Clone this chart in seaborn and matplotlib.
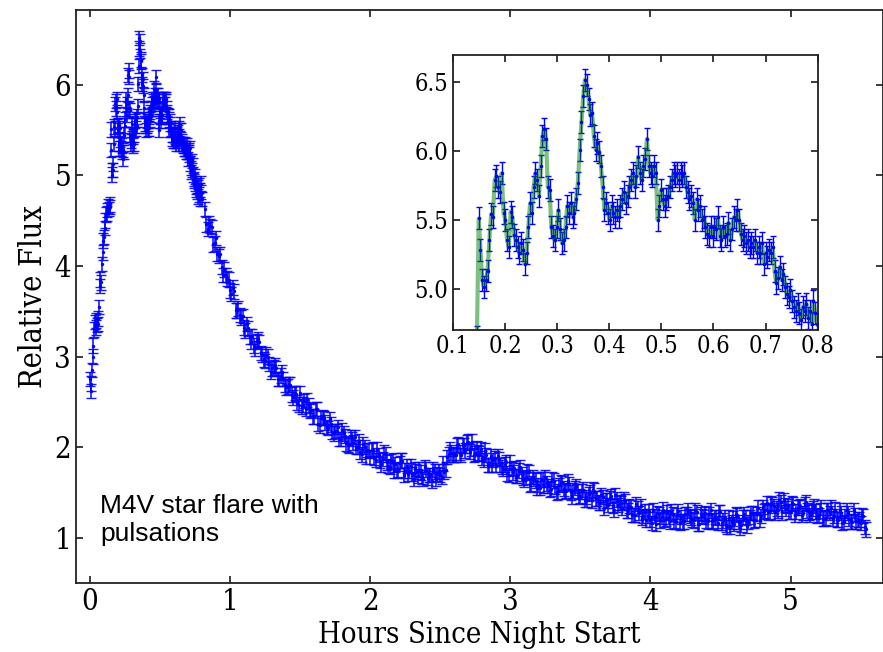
import numpy as np
import pandas as pd
import matplotlib
matplotlib.use('Agg')
import matplotlib.pyplot as plt
import seaborn as sns

# early rise of the flare, read every 0.005 h
rise_t0, rise_step = 0.0, 0.005
rise_flux = [2.75, 2.62, 2.70, 2.85, 3.00, 3.12, 3.30, 3.38, 3.32, 3.40,
             3.35, 3.42, 3.36, 3.55, 3.78, 3.85, 3.82, 4.02, 4.15, 4.28,
             4.32, 4.42, 4.50, 4.57, 4.62, 4.58, 4.66, 4.63, 4.68]

# flare peak with pulsations (the stretch in the inset), ~12 s cadence
peak_t0, peak_step = 0.146, 0.0034
peak_flux = [4.65, 5.51, 5.28, 5.06, 5.01, 5.06, 5.13, 5.35, 5.54, 5.52,
             5.79, 5.82, 5.74, 5.70, 5.84, 5.55, 5.50, 5.35, 5.30, 5.56,
             5.52, 5.39, 5.35, 5.30, 5.26, 5.33, 5.28, 5.18, 5.26, 5.45,
             5.62, 5.55, 5.74, 5.84, 5.79, 5.67, 5.89, 6.11, 6.16, 6.09,
             5.74, 5.72, 5.45, 5.38, 5.35, 5.45, 5.57, 5.43, 5.33, 5.35,
             5.45, 5.60, 5.55, 5.62, 5.52, 5.55, 5.65, 5.77, 6.01, 6.21,
             6.40, 6.52, 6.48, 6.38, 6.26, 6.28, 6.11, 6.01, 6.06, 5.99,
             5.89, 5.74, 5.57, 5.62, 5.55, 5.50, 5.60, 5.55, 5.52, 5.57,
             5.52, 5.60, 5.65, 5.70, 5.62, 5.67, 5.74, 5.79, 5.84, 5.74,
             5.82, 5.96, 5.84, 5.79, 5.89, 5.94, 6.09, 5.89, 5.84, 5.82,
             5.89, 5.84, 5.50, 5.60, 5.72, 5.65, 5.60, 5.65, 5.67, 5.74,
             5.79, 5.84, 5.82, 5.84, 5.79, 5.84, 5.82, 5.84, 5.74, 5.70,
             5.65, 5.67, 5.62, 5.50, 5.65, 5.57, 5.60, 5.50, 5.52, 5.45,
             5.40, 5.38, 5.45, 5.38, 5.45, 5.43, 5.52, 5.38, 5.35, 5.45,
             5.38, 5.40, 5.48, 5.35, 5.43, 5.52, 5.50, 5.57, 5.50, 5.40,
             5.35, 5.38, 5.33, 5.35, 5.30, 5.33, 5.30, 5.35, 5.26, 5.30,
             5.26, 5.33, 5.18, 5.26, 5.23, 5.28, 5.26, 5.30, 5.13, 5.04,
             5.08, 5.16, 5.06, 5.11, 5.01, 4.96, 4.94, 4.99, 4.91, 4.87,
             4.84, 4.89, 4.82, 4.77, 4.87, 4.84, 4.89, 4.79, 4.84, 4.74,
             4.91, 4.82, 4.74]

# slow decay, read every 0.02 h from 0.82 h
decay_a_t0, decay_step = 0.82, 0.02
decay_a_flux = [4.63, 4.41, 4.44, 4.24, 4.31, 4.11, 3.99, 3.96, 3.86, 3.73,
                3.76, 3.51, 3.53, 3.43, 3.32, 3.36, 3.22, 3.22, 3.09, 3.19,
                3.04, 2.97, 3.02, 2.92, 2.87, 2.90, 2.75, 2.79, 2.75, 2.66,
                2.69, 2.58, 2.60, 2.49, 2.60, 2.47, 2.42, 2.46, 2.41, 2.34,
                2.42, 2.24, 2.33, 2.27, 2.21, 2.25, 2.15, 2.18, 2.09, 2.19,
                2.12, 2.03, 2.11, 2.05, 2.00, 2.06, 1.92, 2.00, 1.97, 1.89,
                1.98, 1.86, 1.91, 1.81, 1.94, 1.83, 1.78, 1.85, 1.81, 1.75,
                1.85, 1.69, 1.79, 1.74, 1.70, 1.76, 1.68, 1.72, 1.65, 1.75,
                1.69, 1.63, 1.73, 1.70, 1.69, 1.82, 1.75, 1.92, 1.94, 1.91,
                2.02, 1.94, 2.02, 1.96, 2.06, 1.98, 1.91, 1.99, 1.93, 1.88,
                1.96, 1.80, 1.90, 1.86, 1.80, 1.87, 1.78, 1.81, 1.71, 1.83,
                1.72, 1.68, 1.74, 1.70, 1.64, 1.73, 1.58, 1.67, 1.63, 1.58,
                1.65, 1.57, 1.60, 1.53, 1.65, 1.56, 1.51, 1.61, 1.54, 1.52,
                1.59, 1.45, 1.55, 1.51, 1.46, 1.53, 1.45, 1.48, 1.41, 1.52,
                1.43, 1.38, 1.45, 1.41, 1.36, 1.46, 1.31, 1.42, 1.39, 1.33,
                1.40, 1.30, 1.34, 1.25, 1.37, 1.27, 1.22, 1.29, 1.24, 1.20,
                1.30, 1.15, 1.26, 1.23, 1.20, 1.28, 1.18, 1.26, 1.17, 1.29,
                1.23, 1.18, 1.26, 1.24, 1.20, 1.30, 1.15, 1.26, 1.23, 1.19,
                1.26, 1.18, 1.23, 1.16, 1.28, 1.19, 1.14, 1.22, 1.17, 1.15,
                1.25, 1.11, 1.23, 1.22, 1.17, 1.27, 1.19, 1.26, 1.20, 1.34,
                1.30, 1.28, 1.38, 1.35, 1.32, 1.42, 1.28, 1.36, 1.35, 1.29,
                1.37, 1.29, 1.33, 1.25, 1.37, 1.30, 1.25, 1.32, 1.29, 1.25,
                1.33, 1.21, 1.30, 1.27, 1.21, 1.31, 1.20, 1.27, 1.17, 1.30,
                1.21, 1.17, 1.25, 1.20, 1.16, 1.24, 1.09]

# same decay, the points in between (from 0.83 h)
decay_b_t0 = 0.83
decay_b_flux = [4.46, 4.47, 4.43, 4.25, 4.13, 4.13, 3.90, 3.90, 3.85, 3.69,
                3.72, 3.51, 3.46, 3.45, 3.29, 3.31, 3.16, 3.12, 3.17, 3.16,
                3.02, 2.95, 3.00, 2.83, 2.88, 2.87, 2.75, 2.83, 2.69, 2.67,
                2.69, 2.55, 2.59, 2.47, 2.45, 2.51, 2.52, 2.40, 2.34, 2.42,
                2.26, 2.32, 2.32, 2.22, 2.31, 2.17, 2.18, 2.22, 2.09, 2.15,
                2.04, 2.02, 2.09, 2.11, 2.00, 1.95, 2.03, 1.89, 1.96, 1.97,
                1.88, 1.98, 1.85, 1.87, 1.92, 1.79, 1.84, 1.74, 1.74, 1.82,
                1.85, 1.74, 1.70, 1.79, 1.65, 1.73, 1.75, 1.67, 1.78, 1.66,
                1.69, 1.75, 1.65, 1.73, 1.67, 1.73, 1.89, 1.98, 1.92, 1.91,
                2.03, 1.91, 2.02, 2.05, 1.95, 2.06, 1.93, 1.94, 1.98, 1.86,
                1.91, 1.80, 1.80, 1.88, 1.90, 1.80, 1.76, 1.83, 1.69, 1.76,
                1.77, 1.68, 1.78, 1.66, 1.67, 1.72, 1.60, 1.65, 1.55, 1.55,
                1.64, 1.67, 1.57, 1.54, 1.63, 1.49, 1.58, 1.60, 1.51, 1.62,
                1.50, 1.52, 1.57, 1.45, 1.51, 1.42, 1.42, 1.50, 1.53, 1.43,
                1.39, 1.47, 1.33, 1.41, 1.44, 1.35, 1.47, 1.36, 1.38, 1.42,
                1.30, 1.35, 1.25, 1.25, 1.32, 1.35, 1.24, 1.20, 1.29, 1.16,
                1.24, 1.27, 1.19, 1.31, 1.21, 1.23, 1.29, 1.19, 1.25, 1.16,
                1.18, 1.26, 1.30, 1.22, 1.19, 1.28, 1.15, 1.24, 1.27, 1.18,
                1.30, 1.19, 1.22, 1.28, 1.16, 1.22, 1.12, 1.12, 1.21, 1.26,
                1.17, 1.14, 1.26, 1.13, 1.23, 1.27, 1.20, 1.33, 1.24, 1.29,
                1.38, 1.29, 1.37, 1.28, 1.30, 1.39, 1.41, 1.32, 1.29, 1.38,
                1.25, 1.33, 1.35, 1.27, 1.39, 1.28, 1.29, 1.35, 1.24, 1.30,
                1.21, 1.22, 1.30, 1.33, 1.24, 1.20, 1.30, 1.16, 1.24, 1.27,
                1.18, 1.30, 1.18, 1.20, 1.25, 1.12]

flux_err = 0.08

label_text = 'M4V star flare with\npulsations'


def segment(t0, step, flux):
    return pd.DataFrame({'hours': t0 + step * np.arange(len(flux)),
                         'flux': flux})


peak = segment(peak_t0, peak_step, peak_flux)
df = pd.concat([segment(rise_t0, rise_step, rise_flux), peak,
                segment(decay_a_t0, decay_step, decay_a_flux),
                segment(decay_b_t0, decay_step, decay_b_flux)],
               ignore_index=True)

sns.set_theme(style='ticks')
plt.rcParams['font.family'] = ['DejaVu Serif']
plt.rcParams['font.stretch'] = 'condensed'
plt.rcParams['xtick.direction'] = 'in'
plt.rcParams['ytick.direction'] = 'in'
plt.rcParams['xtick.top'] = True
plt.rcParams['ytick.right'] = True
for key in ['text.color', 'axes.labelcolor', 'xtick.labelcolor', 'ytick.labelcolor']:
    plt.rcParams[key] = 'black'

fig = plt.figure(figsize=(8.83, 6.52), dpi=100)
ax = fig.add_axes([0.086, 0.106, 0.914, 0.879])

ax.errorbar(df['hours'], df['flux'], yerr=flux_err, fmt='none',
            ecolor='blue', elinewidth=1.2, capsize=3.5, capthick=1, alpha=0.9)
sns.scatterplot(data=df, x='hours', y='flux', ax=ax, color='blue',
                s=6, linewidth=0)
ax.set_xlim(-0.1, 5.66)
ax.set_ylim(0.5, 6.83)
ax.set_xticks(range(0, 6))
ax.set_yticks(range(1, 7))
ax.set_xlabel('Hours Since Night Start', fontsize=21, labelpad=4)
ax.set_ylabel('Relative Flux', fontsize=22)
ax.tick_params(labelsize=21, length=5, color='#222222')
for sp in ax.spines.values():
    sp.set_color('#222222')
    sp.set_linewidth(1.3)
ax.text(0.03, 0.155, label_text, transform=ax.transAxes, fontsize=19,
        family=['Liberation Sans', 'DejaVu Sans'], stretch='normal',
        va='top', linespacing=1.2)

axin = fig.add_axes([0.513, 0.494, 0.413, 0.422])
axin.errorbar(peak['hours'], peak['flux'], yerr=flux_err, fmt='.',
              color='blue', ms=3, elinewidth=1, capsize=2.5, capthick=1)
sns.lineplot(data=peak, x='hours', y='flux', ax=axin, color='green',
             alpha=0.5, lw=3)
axin.set_xlim(0.1, 0.8)
axin.set_ylim(4.7, 6.7)
axin.set_xticks([0.1, 0.2, 0.3, 0.4, 0.5, 0.6, 0.7, 0.8])
axin.set_yticks([5.0, 5.5, 6.0, 6.5])
axin.set_xlabel('')
axin.set_ylabel('')
axin.tick_params(labelsize=17, length=5, color='#222222')
for sp in axin.spines.values():
    sp.set_color('#222222')
    sp.set_linewidth(1.3)

fig.savefig('out.png', dpi=100)
